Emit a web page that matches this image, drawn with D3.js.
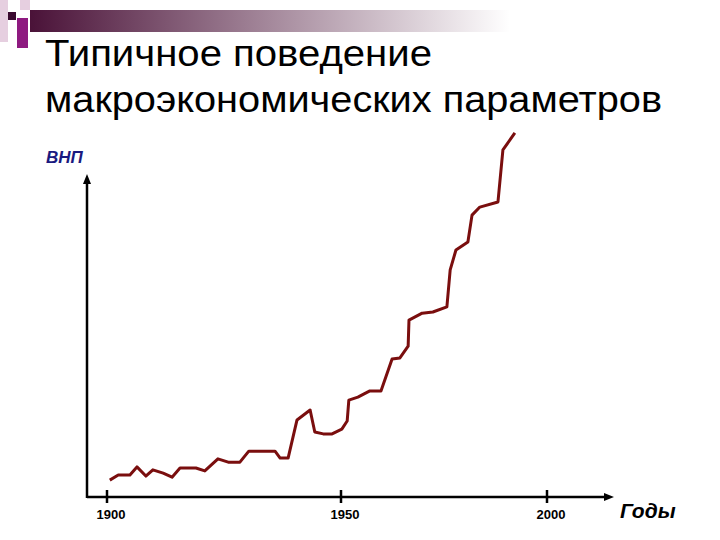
<!DOCTYPE html>
<html><head><meta charset="utf-8">
<script src="https://cdn.jsdelivr.net/npm/d3@7"></script>
<style>body{margin:0;background:#fff}</style>
</head><body>
<svg id="canvas" width="720" height="540"></svg>
<script>
// GNP index vs year
var years = [1900.6,1902.4,1904.9,1906.4,1908.3,1909.8,1912,1913.9,1915.6,1919,1920.9,1923.7,1925.9,1928.4,1930.3,1935.9,1937,1938.7,1940.6,1943.4,1944.4,1946.2,1948.1,1950.2,1951.5,1951.9,1954.1,1957,1959.7,1962.4,1964.3,1966.3,1966.5,1969.7,1972.3,1975.7,1976.5,1977.9,1980.8,1981.8,1983.7,1988.1,1989.3,1992.2];
var gnp = [4.6,6,6,8.2,5.7,7.4,6.5,5.4,7.9,7.9,7.1,10.4,9.5,9.5,12.5,12.5,10.6,10.6,21,23.7,17.7,17.2,17.2,18.5,20.7,26.4,27.2,28.9,28.9,37.6,37.9,41.1,48.2,50.1,50.4,51.8,61.9,67.3,69.5,76.8,79,80.4,94.6,99.2];
var tickYears = [1900, 1950, 2000];

var svg = d3.select('svg#canvas');

// decoration
var grad = svg.append('defs').append('linearGradient').attr('id', 'bar');
grad.append('stop').attr('offset', '0%').attr('stop-color', '#4a1238');
grad.append('stop').attr('offset', '100%').attr('stop-color', '#ffffff');
svg.append('rect').attr('x', 30).attr('y', 10).attr('width', 480).attr('height', 22).attr('fill', 'url(#bar)');
svg.append('rect').attr('x', 0).attr('y', 0).attr('width', 8).attr('height', 42).attr('fill', '#e6cfe0');
svg.append('rect').attr('x', 20).attr('y', 0).attr('width', 10).attr('height', 10).attr('fill', '#e6cfe0');
svg.append('rect').attr('x', 8).attr('y', 12).attr('width', 8).attr('height', 8).attr('fill', '#3a0a30');
svg.append('rect').attr('x', 17).attr('y', 18).attr('width', 11).attr('height', 30).attr('fill', '#8e1a80');

// title
var title = svg.append('text').attr('font-family', 'Liberation Sans, Arial').attr('font-size', 37).attr('fill', '#000');
title.append('tspan').attr('x', 45).attr('y', 66).attr('textLength', 387).attr('lengthAdjust', 'spacingAndGlyphs').text('Типичное поведение');
title.append('tspan').attr('x', 45).attr('y', 112).attr('textLength', 617).attr('lengthAdjust', 'spacingAndGlyphs').text('макроэкономических параметров');

var x = d3.scaleLinear().domain([1900, 1950, 2000]).range([107, 341, 547]);
var y = d3.scaleLinear().domain([0, 100]).range([497, 130]);

// axes
svg.append('defs').append('marker').attr('id', 'arr')
  .attr('markerWidth', 10).attr('markerHeight', 10).attr('refX', 2).attr('refY', 5)
  .attr('orient', 'auto').attr('markerUnits', 'userSpaceOnUse')
  .append('polygon').attr('points', '0 1, 10 5, 0 9').attr('fill', '#000');
svg.append('line').attr('x1', 87).attr('y1', 497).attr('x2', 606).attr('y2', 497)
  .attr('stroke', '#000').attr('stroke-width', 2.5).attr('marker-end', 'url(#arr)');
svg.append('line').attr('x1', 87).attr('y1', 498).attr('x2', 87).attr('y2', 182)
  .attr('stroke', '#000').attr('stroke-width', 2.5).attr('marker-end', 'url(#arr)');

svg.selectAll('.tick').data(tickYears).enter().append('line')
  .attr('x1', function(d) { return x(d); }).attr('x2', function(d) { return x(d); })
  .attr('y1', 490).attr('y2', 503).attr('stroke', '#000').attr('stroke-width', 2.5);
svg.selectAll('.tl').data(tickYears).enter().append('text')
  .attr('x', function(d) { return x(d) + 4; }).attr('y', 519).attr('text-anchor', 'middle')
  .attr('font-family', 'Liberation Sans Narrow, Liberation Sans, Arial').attr('font-size', 13).attr('font-weight', 'bold')
  .text(function(d) { return d; });

svg.append('text').attr('x', 46).attr('y', 163).attr('font-family', 'Liberation Sans, Arial')
  .attr('font-size', 17).attr('font-style', 'italic').attr('font-weight', 'bold').attr('fill', '#1a1a80').text('ВНП');
svg.append('text').attr('x', 620).attr('y', 518).attr('font-family', 'Liberation Sans, Arial')
  .attr('font-size', 21).attr('font-style', 'italic').attr('font-weight', 'bold').attr('fill', '#000').text('Годы');

// series
var pts = years.map(function(d, i) { return [d, gnp[i]]; });
svg.append('path').datum(pts)
  .attr('d', d3.line().x(function(d) { return x(d[0]); }).y(function(d) { return y(d[1]); }))
  .attr('fill', 'none').attr('stroke', '#7a0e0e').attr('stroke-width', 3).attr('stroke-linejoin', 'round');
</script>
</body></html>
